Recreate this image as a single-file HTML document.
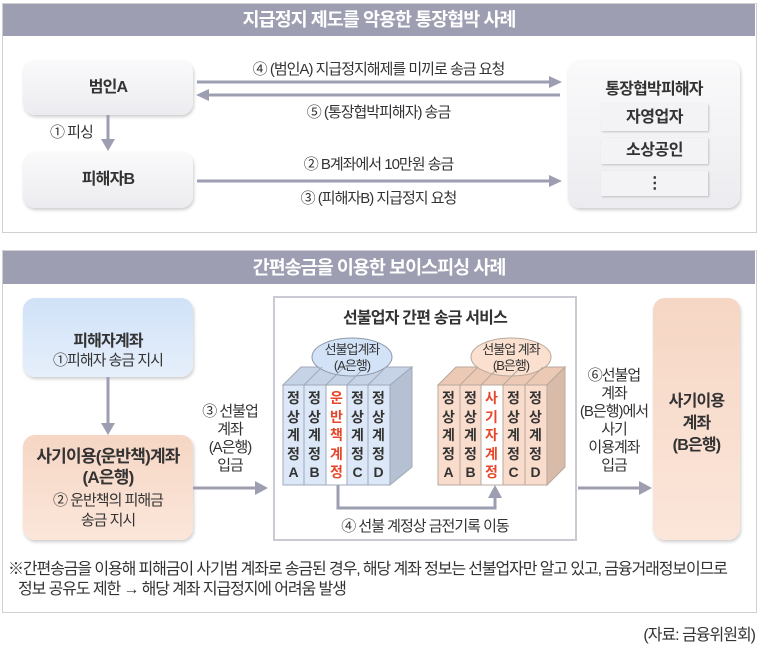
<!DOCTYPE html>
<html><head><meta charset="utf-8">
<style>
body{margin:0;width:761px;height:646px;background:#fff;position:relative;overflow:hidden;font-family:"Liberation Sans","Noto Sans CJK KR",sans-serif;color:#333;}
.a{position:absolute;}
.sec{position:absolute;border:1px solid #cfcfd4;background:#fff;}
.hd{position:absolute;background:#9d9eb2;color:#fff;font-weight:bold;font-size:18.5px;text-align:center;letter-spacing:-1px;}
.box{position:absolute;border-radius:12px;background:linear-gradient(#fafafb,#ececf0);box-shadow:1px 2px 3px rgba(0,0,0,.2);text-align:center;font-weight:bold;font-size:16px;letter-spacing:-0.8px;color:#333;}
.lbl{position:absolute;font-size:15px;letter-spacing:-1px;text-align:center;color:#333;white-space:nowrap;}
.item{position:absolute;background:#f3f3f6;box-shadow:1px 1px 2px rgba(0,0,0,.2);text-align:center;font-weight:bold;font-size:16px;letter-spacing:-0.5px;}
.col{position:absolute;width:21px;font-size:14px;font-weight:bold;line-height:18.5px;text-align:center;box-sizing:border-box;}
</style></head><body>

<div class="sec" style="left:2px;top:3px;width:753px;height:228px;"></div>
<div class="hd" style="left:3px;top:4px;width:752px;height:32px;line-height:32px;">지급정지 제도를 악용한 통장협박 사례</div>

<div class="box" style="left:23px;top:60px;width:170px;height:55px;line-height:55px;">범인A</div>
<div class="box" style="left:23px;top:152px;width:170px;height:56px;line-height:56px;">피해자B</div>
<div class="lbl" style="left:50px;top:121px;">① 피싱</div>

<div class="box" style="left:568px;top:60px;width:172px;height:148px;"></div>
<div class="a" style="left:568px;top:75px;width:172px;text-align:center;font-weight:bold;font-size:16px;letter-spacing:-0.8px;">통장협박피해자</div>
<div class="item" style="left:601px;top:104px;width:107px;height:27px;line-height:27px;">자영업자</div>
<div class="item" style="left:601px;top:138px;width:107px;height:26px;line-height:26px;">소상공인</div>
<div class="item" style="left:601px;top:171px;width:107px;height:25px;line-height:25px;">⋮</div>

<div class="lbl" style="left:197px;top:58px;width:363px;">④ (범인A) 지급정지해제를 미끼로 송금 요청</div>
<div class="lbl" style="left:197px;top:101px;width:363px;">⑤ (통장협박피해자) 송금</div>
<div class="lbl" style="left:197px;top:153px;width:363px;">② B계좌에서 10만원 송금</div>
<div class="lbl" style="left:197px;top:187px;width:363px;">③ (피해자B) 지급정지 요청</div>

<div class="sec" style="left:2px;top:250px;width:753px;height:361px;"></div>
<div class="hd" style="left:3px;top:251px;width:752px;height:33px;line-height:33px;">간편송금을 이용한 보이스피싱 사례</div>

<div class="box" style="left:23px;top:298px;width:170px;height:79px;background:linear-gradient(#d0e2f8,#e6effb);"></div>
<div class="a" style="left:23px;top:327px;width:170px;text-align:center;font-weight:bold;font-size:16px;letter-spacing:-0.8px;">피해자계좌</div>
<div class="lbl" style="left:23px;top:349px;width:170px;">①피해자 송금 지시</div>

<div class="box" style="left:23px;top:435px;width:170px;height:105px;background:linear-gradient(#f6d6c4,#fbe6da);"></div>
<div class="a" style="left:23px;top:446px;width:170px;text-align:center;font-weight:bold;font-size:17px;letter-spacing:-0.8px;line-height:21px;">사기이용(운반책)계좌<br>(A은행)</div>
<div class="lbl" style="left:23px;top:491px;width:170px;line-height:20px;">② 운반책의 피해금<br>송금 지시</div>

<div class="lbl" style="left:193px;top:403px;width:74px;line-height:18px;">③ 선불업<br>계좌<br>(A은행)<br>입금</div>
<div class="lbl" style="left:576px;top:367px;width:76px;line-height:18px;">⑥선불업<br>계좌<br>(B은행)에서<br>사기<br>이용계좌<br>입금</div>

<div class="a" style="left:273px;top:296px;width:300px;height:241px;border:2px solid #c9cad3;"></div>
<div class="a" style="left:273px;top:304px;width:304px;text-align:center;font-weight:bold;font-size:16px;letter-spacing:-0.8px;">선불업자 간편 송금 서비스</div>

<div class="box" style="left:653px;top:298px;width:87px;height:242px;background:linear-gradient(#f6d6c4,#fbe6da);"></div>
<div class="a" style="left:653px;top:391px;width:87px;text-align:center;font-weight:bold;font-size:16px;line-height:22px;letter-spacing:-0.8px;">사기이용<br>계좌<br>(B은행)</div>

<svg class="a" style="left:0;top:0" width="761" height="646">
<g stroke="#9d9eb2" stroke-width="3" fill="none">
<line x1="197" y1="82" x2="552" y2="82"/>
<line x1="560" y1="95" x2="205" y2="95"/>
<line x1="197" y1="181" x2="552" y2="181"/>
<line x1="108" y1="115" x2="108" y2="142"/>
<line x1="108" y1="377" x2="108" y2="426"/>
<line x1="193" y1="488" x2="258" y2="488"/>
<line x1="578" y1="488" x2="642" y2="488"/>
<polyline points="338,485 338,508 495,508 495,498"/>
</g>
<g fill="#9d9eb2">
<path d="M562,82 l-13,-6 v12z"/>
<path d="M196,95 l13,-6 v12z"/>
<path d="M562,181 l-13,-6 v12z"/>
<path d="M108,151 l-7,-12 h14z"/>
<path d="M108,435 l-7,-12 h14z"/>
<path d="M268,488 l-13,-7 v14z"/>
<path d="M652,488 l-13,-7 v14z"/>
<path d="M495,485 l-7,13 h14z"/>
</g>
<path d="M283,385 L301,367 L412,367 L390,385z" fill="#c6d3e6" stroke="#a0a8b8"/>
<path d="M390,385 L412,367 L412,467 L390,485z" fill="#b5c0d2" stroke="#a0a8b8"/>
<rect x="283" y="385" width="107" height="100" fill="#dce8f7" stroke="#a0a8b8"/>
<rect x="326" y="385" width="21" height="100" fill="#fff" stroke="#a0a8b8"/>
<ellipse cx="352" cy="357" rx="40" ry="19" fill="#d2e3f7" stroke="#8f98ad"/>
<path d="M438,385 L456,367 L565,367 L547,385z" fill="#ecc9b5" stroke="#b8a89c"/>
<path d="M547,385 L565,367 L565,467 L547,485z" fill="#d8bba8" stroke="#b8a89c"/>
<rect x="438" y="385" width="109" height="100" fill="#f9dccb" stroke="#b8a89c"/>
<rect x="481" y="385" width="22" height="100" fill="#fff" stroke="#b8a89c"/>
<ellipse cx="511" cy="357" rx="40" ry="19" fill="#fbe0cf" stroke="#b8a89c"/>
<g stroke="#a0a8b8" stroke-width="1">
<line x1="304" y1="385" x2="304" y2="485"/><line x1="368" y1="385" x2="368" y2="485"/>
<line x1="304" y1="385" x2="322" y2="367"/><line x1="326" y1="385" x2="344" y2="367"/><line x1="347" y1="385" x2="365" y2="367"/><line x1="368" y1="385" x2="386" y2="367"/>
</g><g stroke="#b8a89c" stroke-width="1">
<line x1="460" y1="385" x2="460" y2="485"/><line x1="525" y1="385" x2="525" y2="485"/>
<line x1="460" y1="385" x2="478" y2="367"/><line x1="481" y1="385" x2="499" y2="367"/><line x1="503" y1="385" x2="521" y2="367"/><line x1="525" y1="385" x2="543" y2="367"/>
</g>
</svg>
<div class="lbl" style="left:312px;top:342px;width:80px;line-height:16px;font-size:13px;">선불업계좌<br>(A은행)</div>
<div class="lbl" style="left:471px;top:342px;width:80px;line-height:16px;font-size:13px;">선불업 계좌<br>(B은행)</div>

<div class="col" style="left:283px;top:389px;">정<br>상<br>계<br>정<br>A</div>
<div class="col" style="left:304px;top:389px;">정<br>상<br>계<br>정<br>B</div>
<div class="col" style="left:326px;top:389px;color:#e8462a;">운<br>반<br>책<br>계<br>정</div>
<div class="col" style="left:347px;top:389px;">정<br>상<br>계<br>정<br>C</div>
<div class="col" style="left:368px;top:389px;">정<br>상<br>계<br>정<br>D</div>
<div class="col" style="left:438px;top:389px;">정<br>상<br>계<br>정<br>A</div>
<div class="col" style="left:460px;top:389px;">정<br>상<br>계<br>정<br>B</div>
<div class="col" style="left:481px;top:389px;color:#e8462a;">사<br>기<br>자<br>계<br>정</div>
<div class="col" style="left:503px;top:389px;">정<br>상<br>계<br>정<br>C</div>
<div class="col" style="left:525px;top:389px;">정<br>상<br>계<br>정<br>D</div>

<div class="lbl" style="left:273px;top:515px;width:304px;">④ 선불 계정상 금전기록 이동</div>

<div class="a" style="left:8px;top:560px;font-size:16px;letter-spacing:-1.1px;line-height:20px;white-space:nowrap;">※간편송금을 이용해 피해금이 사기범 계좌로 송금된 경우, 해당 계좌 정보는 선불업자만 알고 있고, 금융거래정보이므로<br>&nbsp;&nbsp;&nbsp;정보 공유도 제한 → 해당 계좌 지급정지에 어려움 발생</div>
<div class="a" style="right:6px;top:621px;font-size:16px;letter-spacing:-1px;">(자료: 금융위원회)</div>
</body></html>
